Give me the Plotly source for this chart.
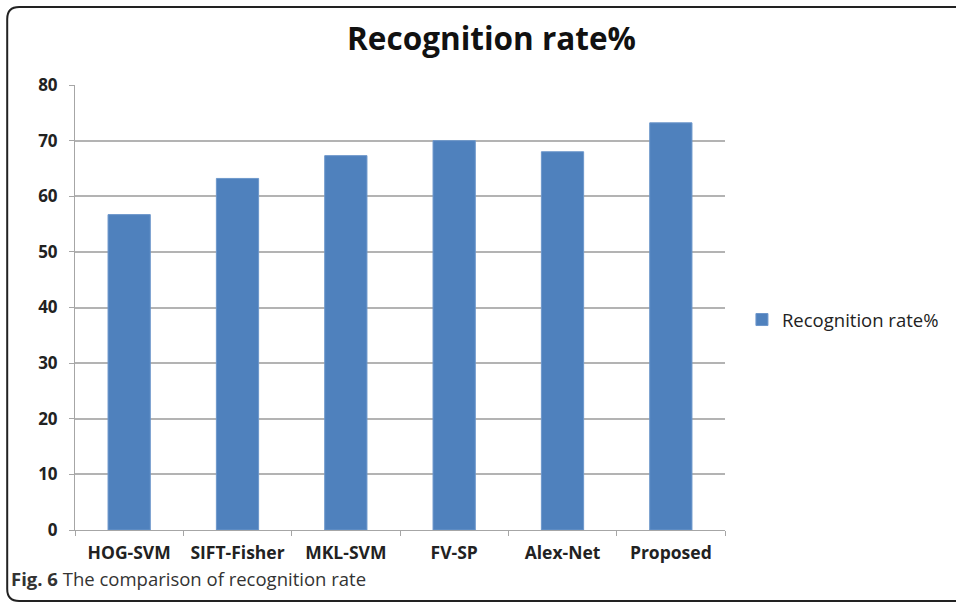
import plotly.graph_objects as go

categories = ["HOG-SVM", "SIFT-Fisher", "MKL-SVM", "FV-SP", "Alex-Net", "Proposed"]
recognition_rate = [56.7, 63.2, 67.3, 70.0, 68.0, 73.2]
series_name = "Recognition rate%"
y_ticks = [0, 10, 20, 30, 40, 50, 60, 70, 80]

W, H = 956, 604
L, R, T, B = 75, 229, 85, 74
PW, PH = W - L - R, H - T - B


def px(x):
    return (x - L) / PW


def py(y):
    return 1 - (y - T) / PH


fig = go.Figure()
fig.add_trace(go.Bar(
    x=categories, y=recognition_rate, name=series_name,
    marker=dict(color="#4f81bd", line=dict(color="#6d97cb", width=1)),
))

# rounded border (frame of the figure panel)
x0, x1, y0, y1, r = 7, 970, 7, 601, 12
path = (f"M {px(x1)},{py(y0)} L {px(x0 + r)},{py(y0)} "
        f"Q {px(x0)},{py(y0)} {px(x0)},{py(y0 + r)} "
        f"L {px(x0)},{py(y1 - r)} Q {px(x0)},{py(y1)} {px(x0 + r)},{py(y1)} "
        f"L {px(x1)},{py(y1)}")
fig.add_shape(type="path", xref="paper", yref="paper", path=path,
              line=dict(color="#222222", width=2))

fig.add_annotation(
    xref="paper", yref="paper", x=px(9), y=py(578), xanchor="left", yanchor="middle",
    text="<b>Fig. 6</b> The comparison of recognition rate", showarrow=False,
    font=dict(family="Open Sans", size=18.5, color="#333333"),
)

fig.update_layout(
    width=W, height=H,
    margin=dict(l=L, r=R, t=T, b=B),
    paper_bgcolor="white", plot_bgcolor="white",
    title=dict(text="<b>Recognition rate%</b>", xref="container", yref="container",
               x=491.5 / W, xanchor="center", y=1 - 38.5 / H, yanchor="middle",
               font=dict(family="Open Sans", size=31.5, color="#111111")),
    bargap=0.61,
    showlegend=True,
    legend=dict(x=px(744), y=py(320), xanchor="left", yanchor="middle",
                font=dict(family="Open Sans", size=18.5, color="#222222"),
                bgcolor="rgba(0,0,0,0)"),
    font=dict(family="Open Sans", color="#222222"),
)
fig.update_xaxes(
    showline=True, linecolor="#a6a6a6", linewidth=1,
    ticks="outside", tickson="boundaries", ticklen=5, tickcolor="#a6a6a6",
    tickfont=dict(family="Open Sans", size=17.5, color="#222222", weight="bold"),
    ticklabelstandoff=7,
    showgrid=False,
)
fig.update_yaxes(
    range=[0, 80], tickvals=y_ticks,
    showline=True, linecolor="#a6a6a6", linewidth=1,
    ticks="outside", ticklen=5, tickcolor="#a6a6a6",
    showgrid=True, gridcolor="#b3b3b3", gridwidth=1.5,
    tickfont=dict(family="Open Sans", size=17, color="#222222", weight="bold"),
    ticklabelstandoff=8,
    zeroline=False,
)
fig.write_html("out.html", config={"displayModeBar": False},
               post_script="document.body.style.margin='0';")
